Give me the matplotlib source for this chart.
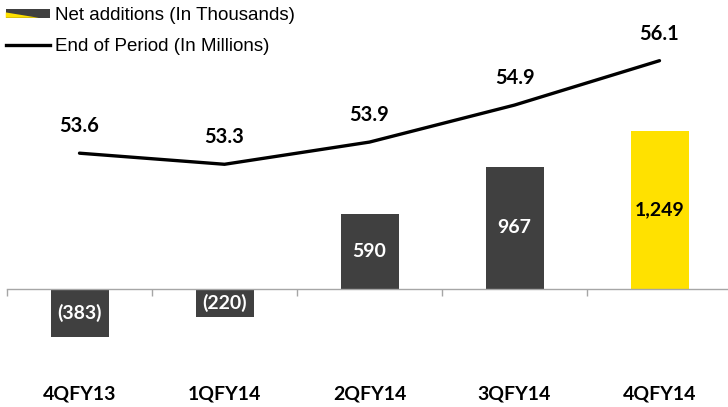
import matplotlib
matplotlib.use("Agg")
import matplotlib.pyplot as plt
from matplotlib.patches import Polygon
from matplotlib.lines import Line2D
from matplotlib.legend_handler import HandlerBase

# data
quarters = ["4QFY13", "1QFY14", "2QFY14", "3QFY14", "4QFY14"]
net_additions = [-383, -220, 590, 967, 1249]        # thousands
net_labels = ["(383)", "(220)", "590", "967", "1,249"]
end_of_period = [53.6, 53.3, 53.9, 54.9, 56.1]      # millions

DARK = "#404040"
YELLOW = "#FFE100"
bar_colors = [DARK, DARK, DARK, DARK, YELLOW]
label_colors = ["white", "white", "white", "white", "black"]


class SplitPatchHandler(HandlerBase):
    # dark box with a yellow wedge, like the original legend key
    def create_artists(self, legend, orig_handle, xdescent, ydescent,
                       width, height, fontsize, trans):
        x0, y0 = -xdescent, -ydescent
        h = 9 / 1.389
        y0 += (height - h) / 2
        dark = Polygon([[x0, y0], [x0 + width, y0], [x0 + width, y0 + h], [x0, y0 + h]],
                       closed=True, facecolor=DARK, edgecolor="none", transform=trans)
        yel = Polygon([[x0, y0], [x0 + width * 0.75, y0], [x0, y0 + h * 0.6]],
                      closed=True, facecolor=YELLOW, edgecolor="none", transform=trans)
        return [dark, yel]


fig = plt.figure(figsize=(7.28, 4.07), dpi=100)
W, H = 728, 407
ax = fig.add_axes([7 / W, 0, 725 / W, 1])
ax2 = ax.twinx()

x = list(range(len(quarters)))
ax.bar(x, net_additions, width=0.4, color=bar_colors, zorder=2)
ax.set_xlim(-0.5, 4.5)
ax.set_ylim(-933, 2285)

for xi, v, lab, c in zip(x, net_additions, net_labels, label_colors):
    ax.text(xi, v / 2, lab, ha="center", va="center", color=c,
            fontsize=14, fontweight="bold", family="Lato", zorder=3)

for xi, q in zip(x, quarters):
    ax.text(xi, 13 / H, q, transform=ax.get_xaxis_transform(), ha="center",
            va="center", fontsize=14, fontweight="bold", family="Lato")

# category axis at zero
for s in ["top", "right", "left"]:
    ax.spines[s].set_visible(False)
ax.spines["bottom"].set_position(("data", 0))
ax.spines["bottom"].set_color("#A6A6A6")
ax.spines["bottom"].set_linewidth(1.0)
ax.set_yticks([])
ax.set_xticks([i - 0.5 for i in range(len(quarters) + 1)])
ax.set_xticklabels([])
ax.tick_params(axis="x", direction="out", length=5, color="#A6A6A6", width=1.0)

ax2.plot(x, end_of_period, color="black", linewidth=2.4, zorder=4,
         solid_capstyle="round")
ax2.set_ylim(46.74, 57.74)
ax2.set_yticks([])
for s in ax2.spines.values():
    s.set_visible(False)
for xi, v in zip(x, end_of_period):
    ax2.annotate(f"{v:.1f}", (xi, v), xytext=(0, 27 / 1.389), textcoords="offset points",
                 ha="center", va="center", fontsize=14.5, fontweight="bold", family="Lato")

handles = [object(), Line2D([], [], color="black", linewidth=2.4)]
leg = fig.legend(handles, ["Net additions (In Thousands)", "End of Period (In Millions)"],
                 handler_map={object: SplitPatchHandler()},
                 loc="upper left", bbox_to_anchor=(2 / W, 1 - 3 / H), frameon=False,
                 prop={"family": "Liberation Sans", "size": 13.5},
                 handlelength=2.35, handletextpad=0.3, labelspacing=0.75,
                 borderpad=0.2, borderaxespad=0)

fig.savefig("out.png", dpi=100)
